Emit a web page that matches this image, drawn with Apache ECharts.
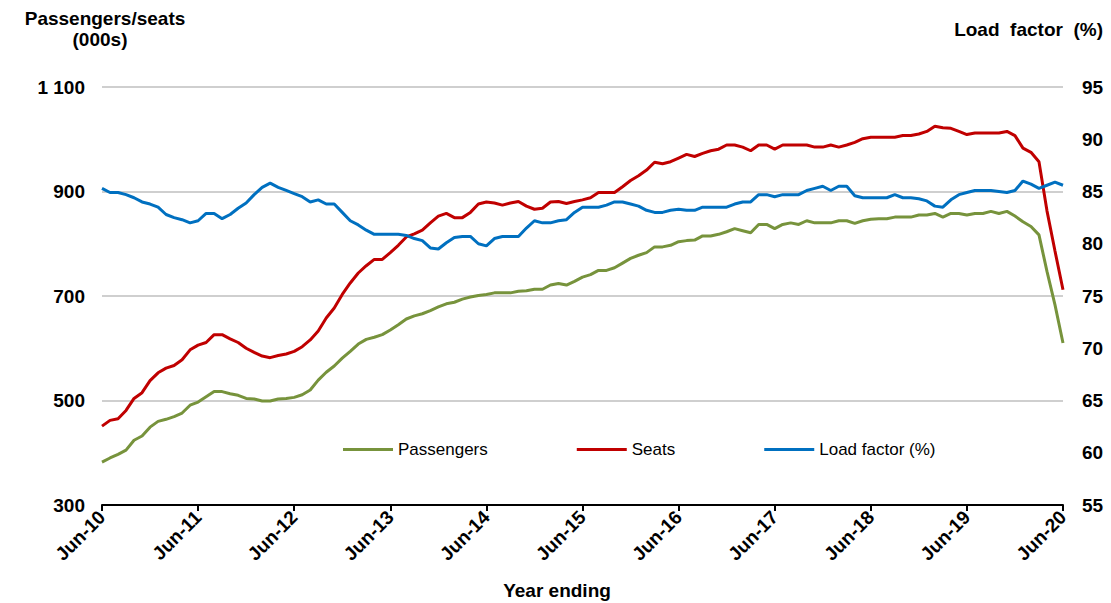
<!DOCTYPE html>
<html>
<head>
<meta charset="utf-8">
<script src="https://cdn.jsdelivr.net/npm/echarts@6/dist/echarts.min.js"></script>
<style>
  html, body { margin: 0; padding: 0; background: #fff; }
  #chart { width: 1111px; height: 603px; }
</style>
</head>
<body>
<div id="chart"></div>
<script>
// month labels Jun-10 .. Jun-20 (year ending)
const monthNames = ['Jun', 'Jul', 'Aug', 'Sep', 'Oct', 'Nov', 'Dec', 'Jan', 'Feb', 'Mar', 'Apr', 'May']
const categories = []
for (let i = 0; i <= 120; i++) {
  const yr = 10 + Math.floor((i + 5) / 12)
  categories.push(monthNames[i % 12] + '-' + yr)
}

const passengers = [
  382, 390, 397, 405, 424, 432, 449, 460, 464, 469, 476, 491,
  497, 507, 517, 517, 513, 510, 504, 503, 499, 499, 503, 504,
  506, 511, 520, 539, 554, 566, 581, 594, 608, 617, 621, 626,
  635, 645, 656, 662, 666, 672, 679, 685, 688, 694, 698, 701,
  703, 706, 706, 706, 709, 710, 713, 713, 721, 724, 721, 728,
  736, 741, 749, 749, 754, 763, 772, 778, 783, 794, 794, 797,
  804, 806, 807, 815, 815, 818, 823, 829, 825, 821, 837, 837,
  829, 837, 840, 837, 844, 840, 840, 840, 844, 844, 839, 844,
  847, 848, 848, 851, 851, 851, 855, 855, 858, 851, 858, 858,
  855, 858, 858, 862, 858, 862, 853, 842, 833, 817, 747, 683,
  610
]

const seats = [
  451, 462, 465, 481, 504, 515, 538, 553, 562, 567, 578, 597,
  606, 611, 626, 626, 618, 611, 600, 592, 585, 582, 586, 589,
  594, 603, 616, 633, 658, 677, 703, 725, 744, 758, 770, 770,
  783, 797, 813, 819, 826, 840, 853, 858, 850, 850, 860, 876,
  880, 878, 874, 878, 881, 872, 866, 868, 880, 881, 877, 881,
  884, 888, 898, 898, 898, 909, 921, 930, 941, 956, 953, 957,
  964, 971, 967, 973, 978, 981, 989, 989, 985, 978, 989, 989,
  981, 989, 989, 989, 989, 985, 985, 989, 985, 989, 994, 1001,
  1004, 1004, 1004, 1004, 1007, 1007, 1010, 1015, 1025, 1022, 1021, 1015,
  1009, 1012, 1012, 1012, 1012, 1015, 1007, 983, 975, 957, 863, 786,
  712
]

const loadFactor = [
  85.3, 84.9, 84.9, 84.7, 84.4, 84.0, 83.8, 83.5, 82.8, 82.5, 82.3, 82.0,
  82.2, 82.9, 82.9, 82.4, 82.8, 83.4, 83.9, 84.7, 85.4, 85.8, 85.4, 85.1,
  84.8, 84.5, 84.0, 84.2, 83.8, 83.8, 83.0, 82.2, 81.8, 81.3, 80.9, 80.9,
  80.9, 80.9, 80.8, 80.5, 80.3, 79.6, 79.5, 80.1, 80.6, 80.7, 80.7, 80.0,
  79.8, 80.5, 80.7, 80.7, 80.7, 81.5, 82.2, 82.0, 82.0, 82.2, 82.3, 83.0,
  83.5, 83.5, 83.5, 83.7, 84.0, 84.0, 83.8, 83.6, 83.2, 83.0, 83.0, 83.2,
  83.3, 83.2, 83.2, 83.5, 83.5, 83.5, 83.5, 83.8, 84.0, 84.0, 84.7, 84.7,
  84.5, 84.7, 84.7, 84.7, 85.1, 85.3, 85.5, 85.1, 85.5, 85.5, 84.6, 84.4,
  84.4, 84.4, 84.4, 84.7, 84.4, 84.4, 84.3, 84.1, 83.6, 83.5, 84.2, 84.7,
  84.9, 85.1, 85.1, 85.1, 85.0, 84.9, 85.1, 86.0, 85.7, 85.3, 85.6, 85.9,
  85.6
]

// left axis shows every other tick (300, 500, ... 1 100)
const leftTicks = [300, 500, 700, 900, 1100]

const font = "'Liberation Sans', Arial, sans-serif"
const boldText = { fontFamily: font, fontWeight: 'bold', fontSize: 19, color: '#000' }

const chart = echarts.init(document.getElementById('chart'), null, { renderer: 'svg' })
chart.setOption({
  animation: false,
  backgroundColor: '#fff',
  grid: { left: 102, right: 48, top: 87, bottom: 98 },
  legend: {
    left: 338,
    top: 436,
    icon: 'rect',
    itemWidth: 50,
    itemHeight: 3,
    itemGap: 89,
    textStyle: { fontFamily: font, fontSize: 17, color: '#000' },
    data: ['Passengers', 'Seats', 'Load factor (%)']
  },
  xAxis: {
    type: 'category',
    boundaryGap: false,
    data: categories,
    axisLine: { lineStyle: { color: '#000', width: 2 } },
    axisTick: { interval: 11, length: 6, lineStyle: { color: '#000', width: 2 } },
    axisLabel: {
      interval: 11,
      rotate: 45,
      margin: 9,
      fontFamily: font,
      fontWeight: 'bold',
      fontSize: 19,
      color: '#000'
    },
    splitLine: { show: false }
  },
  yAxis: [
    {
      type: 'value',
      min: 300,
      max: 1100,
      interval: 100,
      axisLine: { show: false },
      axisTick: { show: false },
      axisLabel: {
        margin: 17,
        ...boldText,
        formatter(v) {
          if (!leftTicks.includes(v)) { return '' }
          return v >= 1000 ? String(v).replace(/^(\d)(\d{3})$/, '$1 $2') : String(v)
        }
      },
      // gray line on every other tick only
      splitLine: { lineStyle: { color: ['#bfbfbf', 'rgba(0,0,0,0)'], width: 1.5 } }
    },
    {
      type: 'value',
      min: 55,
      max: 95,
      interval: 5,
      axisLine: { show: false },
      axisTick: { show: false },
      axisLabel: { margin: 19, ...boldText },
      splitLine: { show: false }
    }
  ],
  graphic: [
    {
      type: 'text', x: 105, y: 18,
      style: { text: 'Passengers/seats', align: 'center', verticalAlign: 'middle', font: 'bold 19px ' + font, fill: '#000' }
    },
    {
      type: 'text', x: 100, y: 39,
      style: { text: '(000s)', align: 'center', verticalAlign: 'middle', font: 'bold 19px ' + font, fill: '#000' }
    },
    {
      type: 'text', x: 1103, y: 29,
      style: { text: 'Load  factor  (%)', align: 'right', verticalAlign: 'middle', font: 'bold 19px ' + font, fill: '#000' }
    },
    {
      type: 'text', x: 557, y: 590,
      style: { text: 'Year ending', align: 'center', verticalAlign: 'middle', font: 'bold 19px ' + font, fill: '#000' }
    }
  ],
  series: [
    {
      name: 'Passengers',
      type: 'line',
      data: passengers,
      symbol: 'none',
      color: '#77933c',
      lineStyle: { width: 3 }
    },
    {
      name: 'Seats',
      type: 'line',
      data: seats,
      symbol: 'none',
      color: '#c00000',
      lineStyle: { width: 3 }
    },
    {
      name: 'Load factor (%)',
      type: 'line',
      yAxisIndex: 1,
      data: loadFactor,
      symbol: 'none',
      color: '#0070c0',
      lineStyle: { width: 3 }
    }
  ]
})
</script>
</body>
</html>
